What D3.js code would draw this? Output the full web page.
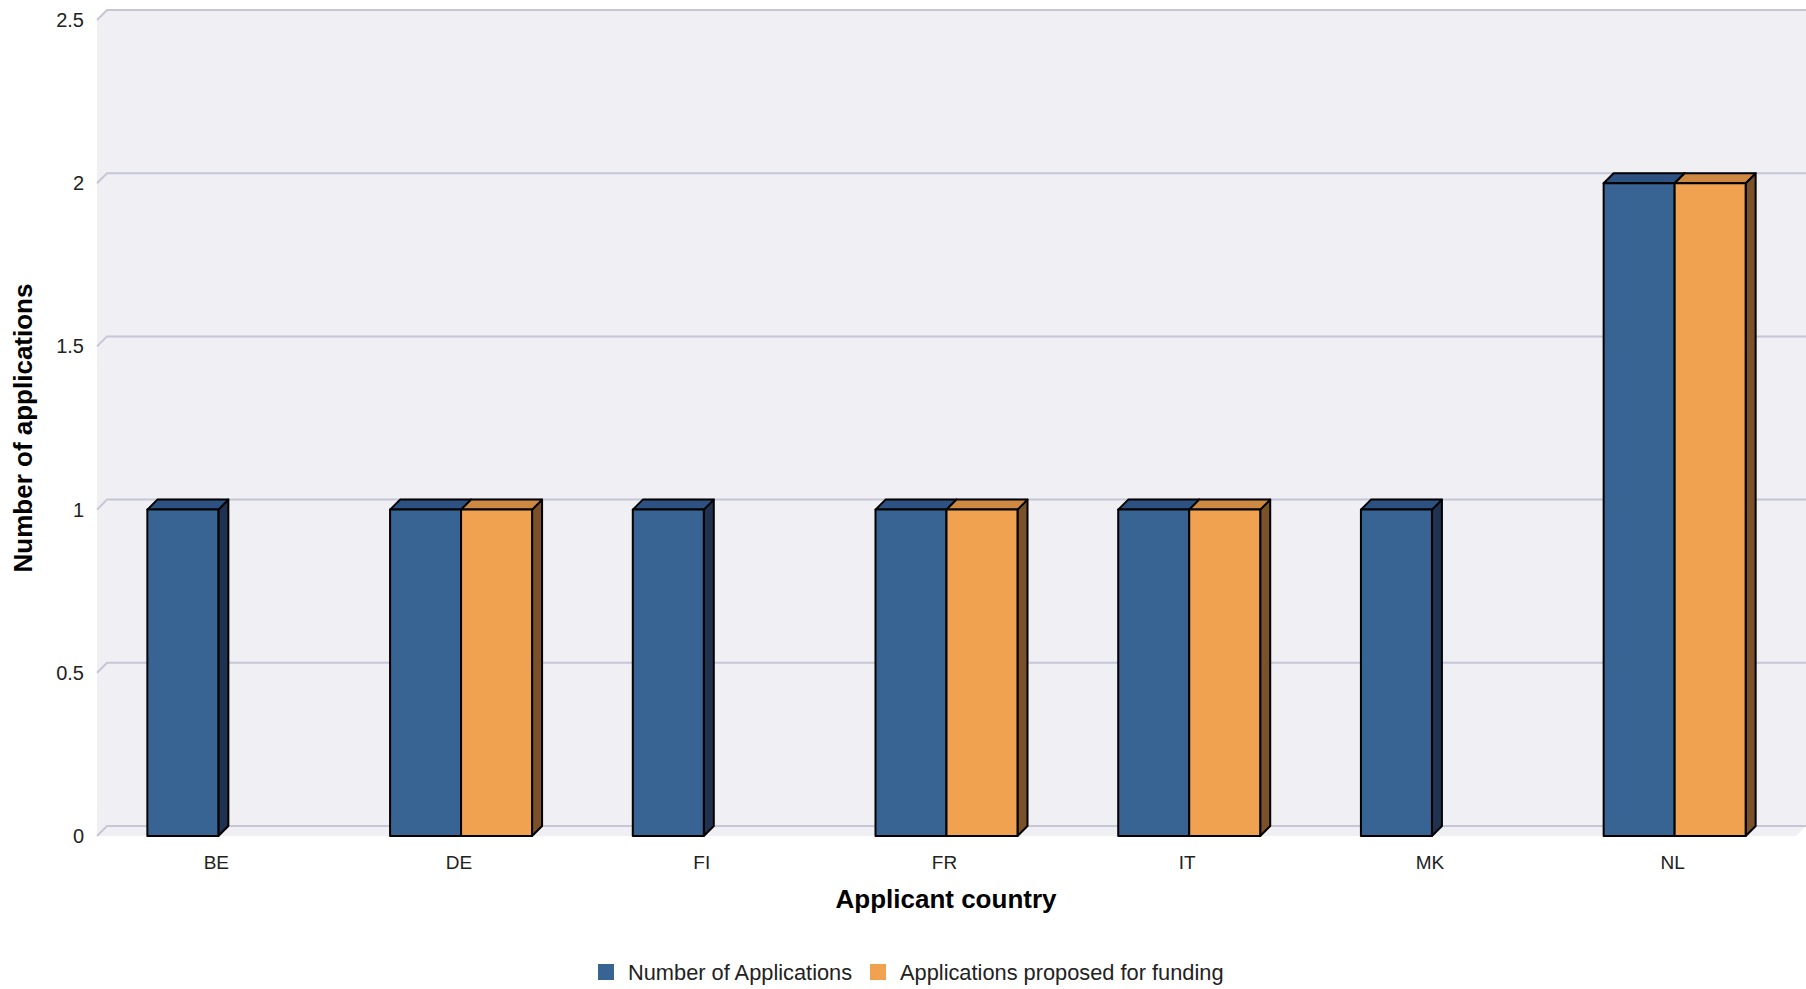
<!DOCTYPE html>
<html>
<head>
<meta charset="utf-8">
<script src="https://cdn.jsdelivr.net/npm/d3@7/dist/d3.min.js"></script>
<style>
  body { margin: 0; background: #fff; }
  text { font-family: "Liberation Sans", Arial, sans-serif; }
</style>
</head>
<body>
<div class="container"></div>
<script>
var countries = ['BE', 'DE', 'FI', 'FR', 'IT', 'MK', 'NL'];
var applications = [1, 1, 1, 1, 1, 1, 2];
var proposed = [0, 1, 0, 1, 1, 0, 2];
var seriesNames = ['Number of Applications', 'Applications proposed for funding'];
var yTicks = [0, 0.5, 1, 1.5, 2, 2.5];

const WIDTH = 1806;
const HEIGHT = 989;
const DEPTH = 10;
const LEFT = 97, RIGHT = 1796, TOP = 20, BOTTOM = 836;

var colors = [
  { front: '#386494', top: '#2d5180', side: '#1f3350' },
  { front: '#f0a250', top: '#cd8842', side: '#7a5128' }
];

var translate = function (x, y) {
  return 'translate(' + x + ',' + y + ')';
};

var svg = d3.select('.container').append('svg')
  .attr('width', WIDTH)
  .attr('height', HEIGHT);

var xScale = d3.scaleBand().domain(countries).range([LEFT, RIGHT]);
var yScale = d3.scaleLinear().domain([0, 2.5]).range([BOTTOM, TOP]);

// plot background with 3d offset
svg.append('path')
  .attr('d', 'M' + LEFT + ',' + TOP + 'L' + (LEFT + DEPTH) + ',' + (TOP - DEPTH) +
    'L' + (RIGHT + DEPTH) + ',' + (TOP - DEPTH) + 'L' + (RIGHT + DEPTH) + ',' + (BOTTOM - DEPTH) +
    'L' + RIGHT + ',' + BOTTOM + 'L' + LEFT + ',' + BOTTOM + 'Z')
  .attr('fill', '#efeff4');

// gridlines on the back wall
var grid = svg.append('g');
yTicks.forEach(function (t) {
  var y = yScale(t);
  grid.append('path')
    .attr('d', 'M' + LEFT + ',' + y + 'L' + (LEFT + DEPTH) + ',' + (y - DEPTH) + 'L' + (RIGHT + DEPTH) + ',' + (y - DEPTH))
    .attr('fill', 'none')
    .attr('stroke', '#c6c6d6')
    .attr('stroke-width', 2);
});

// y axis labels
var yAxis = d3.axisLeft(yScale).tickValues(yTicks).tickSize(0).tickPadding(0)
  .tickFormat(function (d) { return String(d); });
var yg = svg.append('g').attr('transform', translate(84, 0)).call(yAxis);
yg.select('.domain').remove();
yg.selectAll('text').attr('font-size', 20).attr('fill', '#222')
  .style('font-family', '"Liberation Sans", Arial, sans-serif');

// x axis labels
var xAxis = d3.axisBottom(xScale).tickSize(0).tickPadding(0);
var xg = svg.append('g').attr('transform', translate(-2, 855)).call(xAxis);
xg.select('.domain').remove();
xg.selectAll('text').attr('font-size', 19).attr('fill', '#222').attr('dy', '0.71em')
  .style('font-family', '"Liberation Sans", Arial, sans-serif');

// 3d bars
var barW = 71;
var drawBar = function (x0, value, c) {
  if (value <= 0) return;
  var x1 = x0 + barW, yTop = yScale(value), yBot = yScale(0);
  var g = svg.append('g').attr('stroke', '#000').attr('stroke-width', 2).attr('stroke-linejoin', 'round');
  g.append('path')
    .attr('d', 'M' + x1 + ',' + yTop + 'L' + (x1 + DEPTH) + ',' + (yTop - DEPTH) + 'L' + (x1 + DEPTH) + ',' + (yBot - DEPTH) + 'L' + x1 + ',' + yBot + 'Z')
    .attr('fill', c.side);
  g.append('path')
    .attr('d', 'M' + x0 + ',' + yTop + 'L' + (x0 + DEPTH) + ',' + (yTop - DEPTH) + 'L' + (x1 + DEPTH) + ',' + (yTop - DEPTH) + 'L' + x1 + ',' + yTop + 'Z')
    .attr('fill', c.top);
  g.append('rect')
    .attr('x', x0).attr('y', yTop)
    .attr('width', barW).attr('height', yBot - yTop)
    .attr('fill', c.front);
};

countries.forEach(function (c, i) {
  var center = xScale(c) + xScale.bandwidth() / 2;
  drawBar(center - barW, applications[i], colors[0]);
  drawBar(center, proposed[i], colors[1]);
});

// axis titles
svg.append('text')
  .attr('x', 946).attr('y', 908)
  .attr('text-anchor', 'middle')
  .attr('font-size', 26).attr('font-weight', 'bold')
  .text('Applicant country');

svg.append('text')
  .attr('transform', translate(32, 428) + ' rotate(-90)')
  .attr('text-anchor', 'middle')
  .attr('font-size', 26).attr('font-weight', 'bold')
  .text('Number of applications');

// legend
var legend = svg.append('g');
var legendX = [598, 870];
seriesNames.forEach(function (name, i) {
  legend.append('rect')
    .attr('x', legendX[i]).attr('y', 964)
    .attr('width', 16).attr('height', 16)
    .attr('fill', colors[i].front);
  legend.append('text')
    .attr('x', legendX[i] + 30).attr('y', 980)
    .attr('font-size', 21.8).attr('fill', '#222')
    .text(name);
});
</script>
</body>
</html>
